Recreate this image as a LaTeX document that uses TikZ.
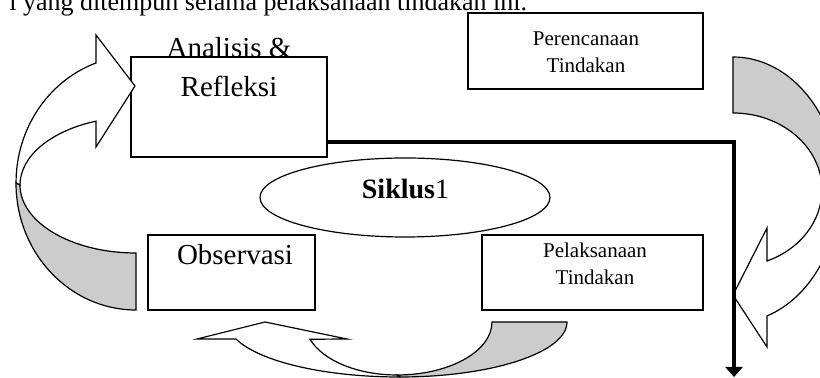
\documentclass[tikz,border=0pt]{standalone}
\usepackage{fontspec}
\setmainfont{Liberation Serif}
\usepackage{tikz}
\usetikzlibrary{arrows.meta, shapes.geometric}

\begin{document}
\begin{tikzpicture}[
    x=0.5pt, y=-0.5pt,
    box/.style={rectangle, draw, line width=0.6pt, fill=white, inner sep=0pt},
    oval/.style={ellipse, draw, line width=0.6pt, inner sep=0pt},
    bigtext/.style={font=\fontsize{14.5}{19.5}\selectfont, align=center, anchor=base, inner sep=0pt},
    smalltext/.style={font=\fontsize{10.5}{13.5}\selectfont, align=center, anchor=base, inner sep=0pt},
    backface/.style={draw, line width=0.6pt, fill=gray!40},
    frontface/.style={draw, line width=0.6pt, fill=white},
    flow/.style={line width=2pt, -{Triangle[length=5pt, width=8.5pt]}},
]
    \useasboundingbox (0,0) rectangle (820,378);
    \clip (0,0) rectangle (820,378);

    % running text of the page, cut at the top
    \node[font=\fontsize{13}{15}\selectfont, anchor=base west, inner sep=0pt] (pagetext) at (9,11) {l yang ditempuh selama pelaksanaan tindakan ini.};

    % the four stages and the cycle
    \node[box, minimum width=98pt, minimum height=50pt] (anal) at (229,107) {};
    \node[box, minimum width=117.5pt, minimum height=38pt] (plan) at (585.5,51) {};
    \node[box, minimum width=83.5pt, minimum height=37.5pt] (obs) at (231.5,272.5) {};
    \node[box, minimum width=110.5pt, minimum height=37.5pt] (act) at (592.5,272.5) {};
    \node[oval, minimum width=145pt, minimum height=39.5pt] (cycle) at (405,197.5) {};

    % curved block arrows
    \filldraw[backface] (16,183) arc[start angle=180, end angle=90, x radius=120, y radius=127]
        -- (136,253) arc[start angle=90, end angle=180, x radius=116, y radius=68] -- cycle;
    \filldraw[frontface] (96,63) arc[start angle=-109.5, end angle=-180, x radius=120, y radius=127]
        -- (20,185) arc[start angle=-180, end angle=-110.2, x radius=116, y radius=68]
        -- (96,147) -- (135,86) -- (96,35) -- cycle;

    \filldraw[backface] (733,57) arc[start angle=-90, end angle=0, x radius=106, y radius=133]
        -- (822,190) arc[start angle=0, end angle=-90, x radius=89, y radius=77] -- cycle;
    \filldraw[frontface] (839,190) arc[start angle=0, end angle=71.3, x radius=106, y radius=133]
        -- (767,347) -- (733,295) -- (767,228)
        -- (767,261) arc[start angle=67.5, end angle=0, x radius=89, y radius=77] -- cycle;

    \filldraw[backface] (492,322) -- (567,322) arc[start angle=0, end angle=90, x radius=167, y radius=55]
        -- (397,375) arc[start angle=90, end angle=0, x radius=95, y radius=53] -- cycle;
    \filldraw[frontface] (236,339) arc[start angle=162, end angle=90, x radius=172, y radius=55]
        -- (397,375) arc[start angle=90, end angle=161, x radius=92, y radius=53]
        -- (347,339) -- (265,322) -- (197,339) -- cycle;

    % thick line down the right side
    \coordinate (flowend) at (734,377);
    \draw[flow] ([yshift=-17.5pt]anal.east) -| (flowend);

    % labels (base is the last line)
    \node[bigtext] (analtext) at (229,97) {Analisis \&\\Refleksi};
    \node[smalltext] (plantext) at (586,73) {Perencanaan\\Tindakan};
    \node[bigtext] (obstext) at (235,265) {Observasi};
    \node[smalltext] (acttext) at (595,285) {Pelaksanaan\\Tindakan};
    \node[bigtext, font=\fontsize{14}{16}\selectfont] (cycletext) at (405.5,199) {\textbf{Siklus}1};
\end{tikzpicture}
\end{document}
